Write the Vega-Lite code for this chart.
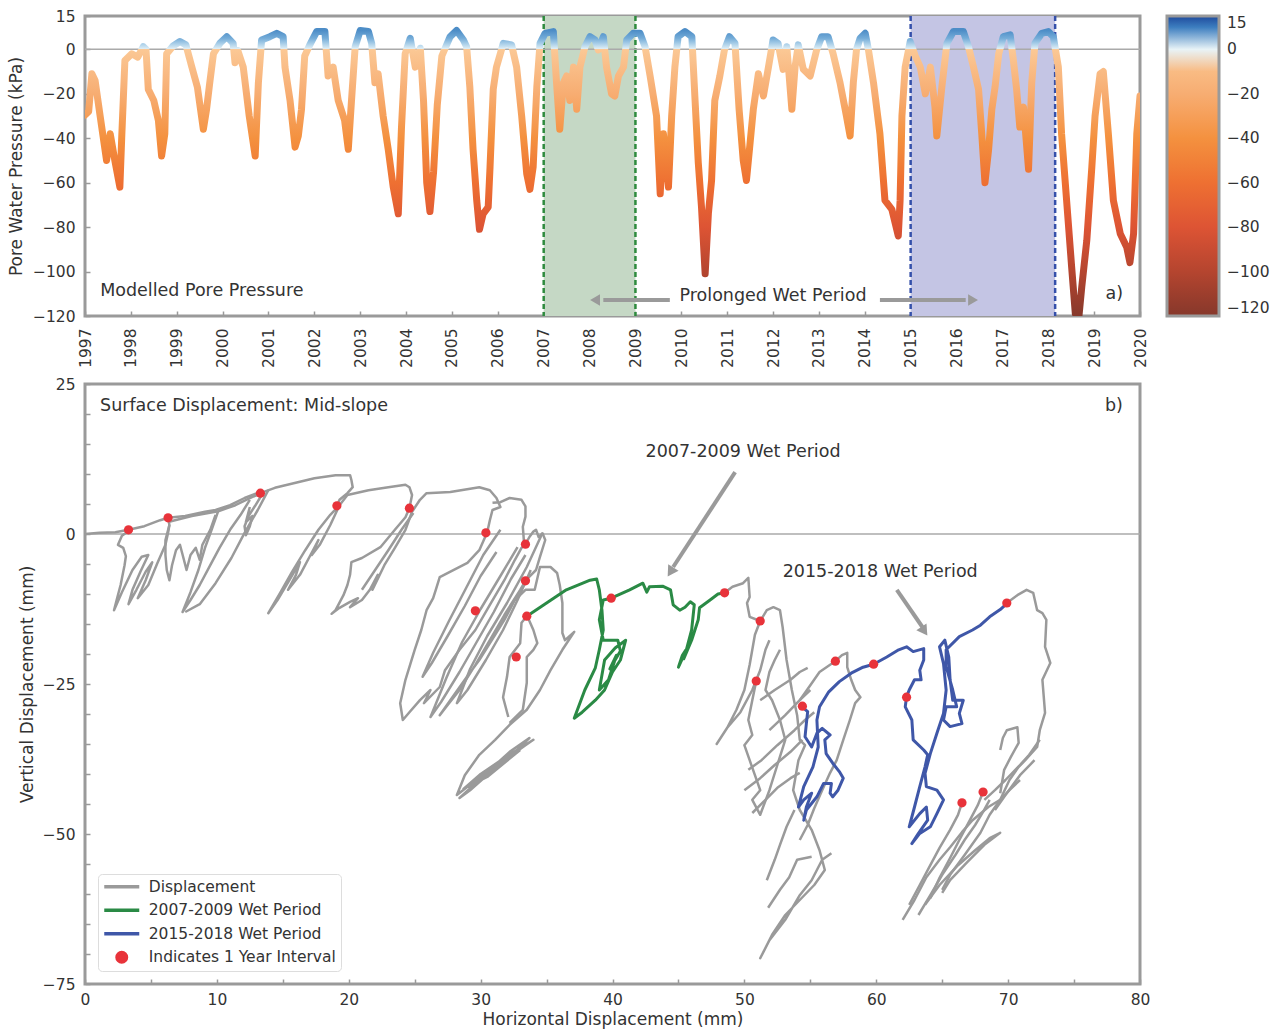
{
"$schema": "https://vega.github.io/schema/vega-lite/v6.json",
"background": "white",
"padding": {"left": 5, "top": 7, "right": 5, "bottom": 2},
"spacing": 6,
"config": {
  "font": "DejaVu Sans",
  "view": {"stroke": "#9a9a9a", "strokeWidth": 3},
  "axis": {"domain": false, "grid": false, "tickColor": "#9a9a9a", "tickWidth": 1.5, "tickSize": -5, "labelFontSize": 15.5, "labelColor": "#333333", "titleFontSize": 17, "titleFontWeight": "normal", "titleColor": "#333333", "labelFont": "DejaVu Sans", "titleFont": "DejaVu Sans"},
  "legend": {"labelFont": "DejaVu Sans"},
  "text": {"font": "DejaVu Sans", "fontSize": 17.5, "color": "#333333"}
},
"resolve": {"scale": {"color": "independent", "x": "independent", "y": "independent"}, "legend": {"color": "independent"}},
"datasets": {
  "pwp": [
{"t":1997.00,"p":-29.6},{"t":1997.08,"p":-28},{"t":1997.15,"p":-11},{"t":1997.22,"p":-14},{"t":1997.33,"p":-30},{"t":1997.47,"p":-50},{"t":1997.55,"p":-38},{"t":1997.65,"p":-50},{"t":1997.76,"p":-62},{"t":1997.80,"p":-40},{"t":1997.87,"p":-5},{"t":1998.02,"p":-2},{"t":1998.15,"p":-3.5},{"t":1998.27,"p":1.2},{"t":1998.33,"p":0},{"t":1998.38,"p":-18},{"t":1998.50,"p":-23},{"t":1998.60,"p":-32},{"t":1998.67,"p":-48},{"t":1998.74,"p":-38},{"t":1998.78,"p":-2},{"t":1998.92,"p":1.5},{"t":1999.07,"p":3.5},{"t":1999.20,"p":2.0},{"t":1999.33,"p":-8},{"t":1999.45,"p":-17},{"t":1999.58,"p":-36},{"t":1999.65,"p":-27},{"t":1999.72,"p":-15},{"t":1999.80,"p":-2},{"t":1999.94,"p":2.7},{"t":2000.09,"p":5.7},{"t":2000.23,"p":2.7},{"t":2000.27,"p":-6},{"t":2000.33,"p":-0.5},{"t":2000.45,"p":-8},{"t":2000.58,"p":-30},{"t":2000.71,"p":-48},{"t":2000.78,"p":-15},{"t":2000.85,"p":4.2},{"t":2001.03,"p":5.7},{"t":2001.18,"p":7.2},{"t":2001.32,"p":5.7},{"t":2001.36,"p":-8},{"t":2001.47,"p":-23},{"t":2001.58,"p":-44},{"t":2001.65,"p":-39},{"t":2001.72,"p":-27},{"t":2001.79,"p":-3},{"t":2001.90,"p":2.0},{"t":2002.05,"p":8.0},{"t":2002.23,"p":8.0},{"t":2002.30,"p":-12},{"t":2002.41,"p":-8},{"t":2002.52,"p":-23},{"t":2002.66,"p":-32},{"t":2002.74,"p":-45},{"t":2002.81,"p":-23},{"t":2002.89,"p":1.2},{"t":2003.00,"p":8.5},{"t":2003.18,"p":8.0},{"t":2003.25,"p":2.7},{"t":2003.32,"p":-15},{"t":2003.39,"p":-11},{"t":2003.50,"p":-30},{"t":2003.61,"p":-45},{"t":2003.72,"p":-62},{"t":2003.83,"p":-74},{"t":2003.90,"p":-35},{"t":2003.98,"p":-2},{"t":2004.09,"p":5.0},{"t":2004.20,"p":-8},{"t":2004.31,"p":0.5},{"t":2004.38,"p":-23},{"t":2004.45,"p":-60},{"t":2004.52,"p":-73},{"t":2004.60,"p":-55},{"t":2004.68,"p":-25},{"t":2004.78,"p":-3},{"t":2004.96,"p":5.7},{"t":2005.10,"p":8.5},{"t":2005.25,"p":4.2},{"t":2005.32,"p":1.2},{"t":2005.39,"p":-17},{"t":2005.46,"p":-45},{"t":2005.54,"p":-68},{"t":2005.60,"p":-81},{"t":2005.68,"p":-74},{"t":2005.79,"p":-71},{"t":2005.83,"p":-53},{"t":2005.90,"p":-18},{"t":2005.97,"p":-8},{"t":2006.12,"p":2.7},{"t":2006.30,"p":2.0},{"t":2006.41,"p":-8},{"t":2006.52,"p":-30},{"t":2006.63,"p":-56},{"t":2006.70,"p":-63},{"t":2006.77,"p":-53},{"t":2006.85,"p":-17},{"t":2006.92,"p":2.7},{"t":2007.03,"p":7.2},{"t":2007.21,"p":8.0},{"t":2007.28,"p":-15},{"t":2007.35,"p":-36},{"t":2007.43,"p":-15},{"t":2007.50,"p":-12},{"t":2007.57,"p":-23},{"t":2007.65,"p":-8},{"t":2007.72,"p":-27},{"t":2007.79,"p":-8},{"t":2007.90,"p":1.2},{"t":2008.01,"p":5.7},{"t":2008.12,"p":4.2},{"t":2008.19,"p":-0.3},{"t":2008.30,"p":5.7},{"t":2008.37,"p":-8},{"t":2008.48,"p":-20},{"t":2008.55,"p":-21},{"t":2008.63,"p":-12},{"t":2008.74,"p":-8},{"t":2008.81,"p":4.2},{"t":2008.95,"p":7.2},{"t":2009.10,"p":7.2},{"t":2009.21,"p":1.2},{"t":2009.32,"p":-12},{"t":2009.46,"p":-30},{"t":2009.54,"p":-65},{"t":2009.61,"p":-38},{"t":2009.72,"p":-62},{"t":2009.79,"p":-30},{"t":2009.86,"p":-8},{"t":2009.93,"p":5.7},{"t":2010.08,"p":8.0},{"t":2010.23,"p":5.7},{"t":2010.30,"p":-23},{"t":2010.37,"p":-51},{"t":2010.44,"p":-71},{"t":2010.52,"p":-101},{"t":2010.59,"p":-74},{"t":2010.66,"p":-59},{"t":2010.73,"p":-23},{"t":2010.84,"p":-12},{"t":2010.94,"p":-0.3},{"t":2011.05,"p":5.7},{"t":2011.17,"p":2.7},{"t":2011.26,"p":-27},{"t":2011.35,"p":-50},{"t":2011.42,"p":-59},{"t":2011.50,"p":-42},{"t":2011.57,"p":-27},{"t":2011.68,"p":-11},{"t":2011.79,"p":-21},{"t":2011.90,"p":-8},{"t":2012.00,"p":4.2},{"t":2012.11,"p":2.7},{"t":2012.22,"p":-9},{"t":2012.30,"p":1.2},{"t":2012.41,"p":-27},{"t":2012.48,"p":-8},{"t":2012.55,"p":2.0},{"t":2012.66,"p":-9},{"t":2012.81,"p":-12},{"t":2012.95,"p":-0.3},{"t":2013.06,"p":5.7},{"t":2013.20,"p":5.7},{"t":2013.31,"p":-2},{"t":2013.46,"p":-15},{"t":2013.60,"p":-30},{"t":2013.68,"p":-39},{"t":2013.75,"p":-15},{"t":2013.82,"p":0},{"t":2013.90,"p":5.0},{"t":2014.01,"p":7.2},{"t":2014.08,"p":-0.3},{"t":2014.19,"p":-15},{"t":2014.33,"p":-38},{"t":2014.44,"p":-68},{"t":2014.59,"p":-72},{"t":2014.73,"p":-84},{"t":2014.77,"p":-68},{"t":2014.81,"p":-30},{"t":2014.88,"p":-8},{"t":2014.99,"p":3.5},{"t":2015.10,"p":-3},{"t":2015.21,"p":-8},{"t":2015.32,"p":-20},{"t":2015.43,"p":-8},{"t":2015.53,"p":-26},{"t":2015.57,"p":-39},{"t":2015.68,"p":-17},{"t":2015.79,"p":2.7},{"t":2015.93,"p":8.0},{"t":2016.15,"p":8.0},{"t":2016.26,"p":1.2},{"t":2016.37,"p":-8},{"t":2016.48,"p":-18},{"t":2016.55,"p":-38},{"t":2016.62,"p":-60},{"t":2016.70,"p":-45},{"t":2016.77,"p":-27},{"t":2016.84,"p":-17},{"t":2016.92,"p":-2},{"t":2017.02,"p":5.7},{"t":2017.17,"p":6.5},{"t":2017.24,"p":-5},{"t":2017.31,"p":-18},{"t":2017.38,"p":-35},{"t":2017.46,"p":-26},{"t":2017.57,"p":-54},{"t":2017.64,"p":-15},{"t":2017.71,"p":2.7},{"t":2017.86,"p":7.2},{"t":2018.00,"p":8.0},{"t":2018.11,"p":5.7},{"t":2018.22,"p":-8},{"t":2018.29,"p":-38},{"t":2018.40,"p":-68},{"t":2018.51,"p":-98},{"t":2018.59,"p":-119},{"t":2018.66,"p":-122},{"t":2018.73,"p":-107},{"t":2018.84,"p":-86},{"t":2018.95,"p":-53},{"t":2019.02,"p":-30},{"t":2019.13,"p":-11},{"t":2019.20,"p":-10},{"t":2019.31,"p":-38},{"t":2019.42,"p":-68},{"t":2019.57,"p":-83},{"t":2019.71,"p":-89},{"t":2019.78,"p":-96},{"t":2019.86,"p":-83},{"t":2019.93,"p":-38},{"t":2020.00,"p":-21}
  ],
  "gray": [
{"s":1,"x":0,"y":0},{"s":1,"x":1.1,"y":0.2},{"s":1,"x":2.3,"y":0.3},{"s":1,"x":3.3,"y":0.7},{"s":1,"x":4.5,"y":1.3},{"s":1,"x":5.7,"y":2.3},{"s":1,"x":6.3,"y":2.7},{"s":1,"x":7.6,"y":3.0},{"s":1,"x":9.1,"y":3.7},{"s":1,"x":9.9,"y":4.0},{"s":1,"x":11.0,"y":4.8},{"s":1,"x":12.1,"y":6.0},{"s":1,"x":12.9,"y":6.7},{"s":1,"x":13.3,"y":6.8},{"s":1,"x":14.4,"y":7.7},{"s":1,"x":15.9,"y":8.5},{"s":1,"x":17.4,"y":9.3},{"s":1,"x":19.0,"y":9.8},{"s":1,"x":20.1,"y":9.8},{"s":1,"x":20.2,"y":9.0},{"s":1,"x":20.3,"y":7.8},{"s":1,"x":19.9,"y":6.8},{"s":1,"x":19.3,"y":5.7},{"s":1,"x":19.1,"y":4.7},
{"s":2,"x":6.3,"y":2.0},{"s":2,"x":8.1,"y":3.0},{"s":2,"x":10.1,"y":3.8},{"s":2,"x":11.4,"y":4.8},{"s":2,"x":12.7,"y":6.2},{"s":2,"x":13.4,"y":6.7},
{"s":3,"x":3.3,"y":0.5},{"s":3,"x":2.8,"y":-0.3},{"s":3,"x":2.5,"y":-1.8},{"s":3,"x":2.9,"y":-2.3},{"s":3,"x":3.1,"y":-3.7},{"s":3,"x":3.0,"y":-5.2},{"s":3,"x":2.7,"y":-8.5},{"s":3,"x":2.4,"y":-11.0},{"s":3,"x":2.2,"y":-12.7},{"s":3,"x":2.8,"y":-9.7},{"s":3,"x":3.6,"y":-6.0},{"s":3,"x":4.3,"y":-3.8},{"s":3,"x":4.8,"y":-3.5},{"s":3,"x":4.2,"y":-6.3},{"s":3,"x":3.6,"y":-9.3},{"s":3,"x":3.3,"y":-11.7},{"s":3,"x":3.9,"y":-9.3},{"s":3,"x":4.6,"y":-6.3},{"s":3,"x":5.1,"y":-4.7},{"s":3,"x":4.6,"y":-7.7},{"s":3,"x":4.0,"y":-10.7},{"s":3,"x":4.8,"y":-8.5},{"s":3,"x":5.5,"y":-4.8},{"s":3,"x":6.1,"y":-1.8},{"s":3,"x":6.3,"y":0.2},{"s":3,"x":6.4,"y":1.5},{"s":3,"x":6.3,"y":2.7},
{"s":4,"x":6.4,"y":1.5},{"s":4,"x":6.1,"y":-1.0},{"s":4,"x":6.1,"y":-3.5},{"s":4,"x":6.2,"y":-6.0},{"s":4,"x":6.4,"y":-7.7},{"s":4,"x":6.6,"y":-5.2},{"s":4,"x":6.9,"y":-2.7},{"s":4,"x":7.2,"y":-1.8},{"s":4,"x":7.5,"y":-4.3},{"s":4,"x":7.7,"y":-6.0},{"s":4,"x":8.0,"y":-3.5},{"s":4,"x":8.4,"y":-2.3},{"s":4,"x":8.7,"y":-4.3},{"s":4,"x":8.9,"y":-1.8},{"s":4,"x":9.5,"y":0.7},{"s":4,"x":9.9,"y":3.2},
{"s":5,"x":10.1,"y":3.8},{"s":5,"x":9.6,"y":0.7},{"s":5,"x":9.1,"y":-2.3},{"s":5,"x":8.6,"y":-6.0},{"s":5,"x":8.0,"y":-9.7},{"s":5,"x":7.4,"y":-13.0},{"s":5,"x":8.0,"y":-11.0},{"s":5,"x":8.7,"y":-8.5},{"s":5,"x":9.5,"y":-5.2},{"s":5,"x":10.2,"y":-2.3},{"s":5,"x":11.0,"y":0.7},{"s":5,"x":11.8,"y":3.2},{"s":5,"x":12.5,"y":5.7},
{"s":6,"x":13.4,"y":6.5},{"s":6,"x":12.9,"y":4.7},{"s":6,"x":12.4,"y":3.0},{"s":6,"x":12.1,"y":1.3},{"s":6,"x":12.2,"y":-0.2},{"s":6,"x":12.5,"y":1.3},{"s":6,"x":12.7,"y":3.0},{"s":6,"x":12.2,"y":2.0},{"s":6,"x":12.5,"y":4.5},
{"s":7,"x":13.9,"y":7.3},{"s":7,"x":13.1,"y":4.0},{"s":7,"x":12.1,"y":0.2},{"s":7,"x":11.1,"y":-4.0},{"s":7,"x":9.9,"y":-8.2},{"s":7,"x":8.7,"y":-11.7},{"s":7,"x":7.6,"y":-13.0},
{"s":8,"x":19.3,"y":4.8},{"s":8,"x":18.6,"y":3.2},{"s":8,"x":17.7,"y":0.7},{"s":8,"x":16.7,"y":-2.7},{"s":8,"x":15.7,"y":-6.3},{"s":8,"x":14.8,"y":-9.8},{"s":8,"x":13.9,"y":-13.2},{"s":8,"x":14.6,"y":-11.0},{"s":8,"x":15.5,"y":-7.7},{"s":8,"x":16.3,"y":-4.7},{"s":8,"x":16.0,"y":-6.8},{"s":8,"x":15.4,"y":-9.3},{"s":8,"x":16.3,"y":-6.8},{"s":8,"x":17.1,"y":-3.5},{"s":8,"x":17.7,"y":-1.0},{"s":8,"x":17.2,"y":-3.5},{"s":8,"x":17.8,"y":-1.8},{"s":8,"x":18.6,"y":1.5},{"s":8,"x":19.3,"y":4.8},{"s":8,"x":19.9,"y":6.5},{"s":8,"x":21.5,"y":7.3},{"s":8,"x":23.0,"y":7.8},{"s":8,"x":24.3,"y":8.2},{"s":8,"x":24.6,"y":7.8},{"s":8,"x":24.8,"y":6.5},{"s":8,"x":24.6,"y":4.3},
{"s":9,"x":24.6,"y":4.3},{"s":9,"x":24.3,"y":2.8},{"s":9,"x":23.5,"y":0.7},{"s":9,"x":22.4,"y":-2.2},{"s":9,"x":21.0,"y":-4.0},{"s":9,"x":20.2,"y":-4.7},{"s":9,"x":20.1,"y":-6.8},{"s":9,"x":19.9,"y":-8.5},{"s":9,"x":19.6,"y":-10.2},{"s":9,"x":19.0,"y":-12.7},{"s":9,"x":18.7,"y":-13.3},{"s":9,"x":19.3,"y":-12.3},{"s":9,"x":20.1,"y":-11.3},{"s":9,"x":20.7,"y":-10.7},{"s":9,"x":20.1,"y":-12.2},{"s":9,"x":21.0,"y":-11.0},{"s":9,"x":21.6,"y":-9.3},{"s":9,"x":22.2,"y":-6.8},{"s":9,"x":21.8,"y":-9.3},{"s":9,"x":22.7,"y":-5.2},{"s":9,"x":23.5,"y":-2.3},{"s":9,"x":24.3,"y":0.7},{"s":9,"x":24.8,"y":3.7},{"s":9,"x":25.4,"y":5.7},{"s":9,"x":25.9,"y":6.8},{"s":9,"x":27.7,"y":7.0},{"s":9,"x":29.9,"y":7.8},{"s":9,"x":30.7,"y":7.3},{"s":9,"x":31.2,"y":6.0},{"s":9,"x":31.5,"y":4.5},{"s":9,"x":30.9,"y":4.0},{"s":9,"x":30.7,"y":2.3},{"s":9,"x":30.5,"y":0.3},
{"s":10,"x":24.9,"y":3.5},{"s":10,"x":24.0,"y":0.7},{"s":10,"x":23.0,"y":-2.7},{"s":10,"x":22.0,"y":-6.0},{"s":10,"x":21.0,"y":-9.3},
{"s":11,"x":30.5,"y":0.3},{"s":11,"x":29.9,"y":-2.7},{"s":11,"x":29.0,"y":-4.8},{"s":11,"x":26.9,"y":-7.2},{"s":11,"x":26.6,"y":-9.3},{"s":11,"x":26.4,"y":-10.7},{"s":11,"x":25.9,"y":-12.7},{"s":11,"x":25.5,"y":-16.0},{"s":11,"x":25.0,"y":-19.3},{"s":11,"x":24.3,"y":-24.3},{"s":11,"x":23.9,"y":-28.2},{"s":11,"x":24.1,"y":-31.0},{"s":11,"x":24.6,"y":-29.7},{"s":11,"x":25.4,"y":-27.7},{"s":11,"x":26.2,"y":-26.0},{"s":11,"x":25.7,"y":-28.2},{"s":11,"x":26.9,"y":-25.5},{"s":11,"x":27.3,"y":-22.7},{"s":11,"x":28.4,"y":-19.3},{"s":11,"x":29.6,"y":-16.0},{"s":11,"x":30.7,"y":-11.8},{"s":11,"x":31.8,"y":-7.7},{"s":11,"x":32.6,"y":-4.3},{"s":11,"x":33.1,"y":-2.3},{"s":11,"x":33.4,"y":-1.7},
{"s":12,"x":31.5,"y":0.7},{"s":12,"x":30.2,"y":-3.5},{"s":12,"x":28.9,"y":-9.0},{"s":12,"x":27.6,"y":-14.5},{"s":12,"x":26.4,"y":-19.8},{"s":12,"x":25.6,"y":-23.8},{"s":12,"x":26.3,"y":-21.5},{"s":12,"x":27.5,"y":-17.0},{"s":12,"x":28.8,"y":-12.0},{"s":12,"x":30.0,"y":-7.0},{"s":12,"x":31.2,"y":-3.0},
{"s":13,"x":32.8,"y":-2.2},{"s":13,"x":31.5,"y":-7.0},{"s":13,"x":30.0,"y":-12.5},{"s":13,"x":28.6,"y":-18.0},{"s":13,"x":27.4,"y":-24.0},{"s":13,"x":26.2,"y":-30.5},{"s":13,"x":27.0,"y":-28.0},{"s":13,"x":28.4,"y":-23.0},{"s":13,"x":29.7,"y":-18.0},{"s":13,"x":31.0,"y":-13.0},{"s":13,"x":32.3,"y":-7.5},{"s":13,"x":33.4,"y":-3.5},
{"s":14,"x":34.7,"y":0.2},{"s":14,"x":33.5,"y":-5.5},{"s":14,"x":32.0,"y":-11.5},{"s":14,"x":30.5,"y":-17.0},{"s":14,"x":29.2,"y":-22.5},{"s":14,"x":28.2,"y":-28.2},{"s":14,"x":29.0,"y":-26.0},{"s":14,"x":30.4,"y":-21.0},{"s":14,"x":31.7,"y":-16.0},{"s":14,"x":32.8,"y":-11.0},{"s":14,"x":33.8,"y":-6.0},
{"s":15,"x":30.9,"y":5.2},{"s":15,"x":31.5,"y":5.3},{"s":15,"x":32.2,"y":6.0},{"s":15,"x":33.1,"y":5.7},{"s":15,"x":33.4,"y":4.6},{"s":15,"x":33.4,"y":2.9},{"s":15,"x":33.2,"y":1.2},{"s":15,"x":33.3,"y":-1.7},
{"s":16,"x":33.4,"y":-1.7},{"s":16,"x":33.7,"y":-0.5},{"s":16,"x":34.0,"y":0.4},{"s":16,"x":34.2,"y":0.7},{"s":16,"x":34.4,"y":-0.5},{"s":16,"x":34.7,"y":0.1},{"s":16,"x":34.9,"y":-1.0},{"s":16,"x":34.5,"y":-3.8},{"s":16,"x":34.2,"y":-6.0},{"s":16,"x":33.7,"y":-7.1},{"s":16,"x":33.4,"y":-7.8},
{"s":17,"x":33.4,"y":-7.8},{"s":17,"x":33.0,"y":-9.3},{"s":17,"x":31.8,"y":-13.5},{"s":17,"x":30.7,"y":-17.7},{"s":17,"x":29.6,"y":-21.8},{"s":17,"x":28.4,"y":-26.0},{"s":17,"x":27.5,"y":-28.5},{"s":17,"x":26.9,"y":-30.2},{"s":17,"x":27.7,"y":-27.7},{"s":17,"x":28.8,"y":-24.3},{"s":17,"x":29.9,"y":-21.0},{"s":17,"x":31.1,"y":-16.8},{"s":17,"x":31.8,"y":-14.3},{"s":17,"x":32.6,"y":-11.0},{"s":17,"x":33.4,"y":-9.3},{"s":17,"x":34.1,"y":-9.3},{"s":17,"x":34.5,"y":-5.5},{"s":17,"x":35.3,"y":-5.5},{"s":17,"x":35.8,"y":-6.5},{"s":17,"x":36.0,"y":-8.5},{"s":17,"x":36.2,"y":-11.5},{"s":17,"x":36.2,"y":-16.5},{"s":17,"x":36.4,"y":-17.7},{"s":17,"x":37.1,"y":-16.3},{"s":17,"x":36.2,"y":-19.3},{"s":17,"x":35.3,"y":-22.7},{"s":17,"x":34.5,"y":-26.0},{"s":17,"x":33.5,"y":-29.3},{"s":17,"x":32.2,"y":-31.8},{"s":17,"x":31.1,"y":-34.3},{"s":17,"x":29.9,"y":-36.8},{"s":17,"x":28.8,"y":-40.2},{"s":17,"x":28.2,"y":-43.5},{"s":17,"x":29.2,"y":-41.8},{"s":17,"x":30.7,"y":-39.3},{"s":17,"x":32.2,"y":-36.3},{"s":17,"x":33.7,"y":-34.0},{"s":17,"x":32.6,"y":-36.3},{"s":17,"x":31.1,"y":-39.0},{"s":17,"x":29.2,"y":-42.7},{"s":17,"x":28.4,"y":-44.0},{"s":17,"x":29.9,"y":-41.0},{"s":17,"x":31.8,"y":-37.7},{"s":17,"x":33.4,"y":-35.2},{"s":17,"x":34.0,"y":-34.3},{"s":17,"x":32.0,"y":-37.0},{"s":17,"x":30.0,"y":-40.0},{"s":17,"x":28.7,"y":-42.5},{"s":17,"x":30.5,"y":-40.5},{"s":17,"x":33.0,"y":-36.0},
{"s":18,"x":33.5,"y":-13.7},{"s":18,"x":33.1,"y":-14.8},{"s":18,"x":33.0,"y":-18.2},{"s":18,"x":32.2,"y":-20.5},{"s":18,"x":32.0,"y":-23.8},{"s":18,"x":31.7,"y":-27.2},{"s":18,"x":32.1,"y":-30.5},
{"s":19,"x":33.6,"y":-14.0},{"s":19,"x":34.0,"y":-16.0},{"s":19,"x":34.3,"y":-18.2},{"s":19,"x":34.0,"y":-19.3},{"s":19,"x":33.5,"y":-20.5},{"s":19,"x":33.5,"y":-24.8},{"s":19,"x":33.2,"y":-29.3},{"s":19,"x":32.2,"y":-31.5},
{"s":20,"x":48.5,"y":-9.8},{"s":20,"x":49.1,"y":-8.8},{"s":20,"x":49.9,"y":-8.2},{"s":20,"x":50.3,"y":-7.3},{"s":20,"x":50.4,"y":-10.5},{"s":20,"x":50.2,"y":-11.5},{"s":20,"x":50.4,"y":-13.8},{"s":20,"x":51.2,"y":-14.5},{"s":20,"x":51.7,"y":-12.7},{"s":20,"x":52.2,"y":-12.2},{"s":20,"x":52.7,"y":-12.7},{"s":20,"x":52.9,"y":-15.5},{"s":20,"x":53.2,"y":-21.0},{"s":20,"x":53.6,"y":-26.0},{"s":20,"x":54.0,"y":-30.2},{"s":20,"x":54.2,"y":-34.3},{"s":20,"x":54.6,"y":-35.2},{"s":20,"x":54.1,"y":-37.7},{"s":20,"x":53.7,"y":-42.7},{"s":20,"x":54.2,"y":-46.0},{"s":20,"x":55.1,"y":-49.3},{"s":20,"x":55.7,"y":-52.7},{"s":20,"x":56.1,"y":-56.0},{"s":20,"x":55.3,"y":-58.5},{"s":20,"x":54.2,"y":-61.0},{"s":20,"x":53.1,"y":-63.5},{"s":20,"x":52.1,"y":-66.8},{"s":20,"x":51.2,"y":-70.7},{"s":20,"x":51.9,"y":-67.7},{"s":20,"x":53.1,"y":-64.3},{"s":20,"x":54.2,"y":-60.2},{"s":20,"x":55.1,"y":-57.7},{"s":20,"x":55.9,"y":-54.3},{"s":20,"x":56.6,"y":-53.2},
{"s":21,"x":51.2,"y":-14.5},{"s":21,"x":50.8,"y":-16.8},{"s":21,"x":50.6,"y":-19.3},{"s":21,"x":50.4,"y":-21.8},{"s":21,"x":50.0,"y":-26.0},{"s":21,"x":49.4,"y":-29.3},{"s":21,"x":48.7,"y":-32.3},{"s":21,"x":47.9,"y":-35.0},{"s":21,"x":48.7,"y":-32.3},{"s":21,"x":49.7,"y":-29.7},{"s":21,"x":50.6,"y":-26.0},{"s":21,"x":51.2,"y":-22.7},{"s":21,"x":51.6,"y":-19.3},{"s":21,"x":51.9,"y":-17.7},
{"s":22,"x":50.9,"y":-24.5},{"s":22,"x":50.6,"y":-27.7},{"s":22,"x":50.3,"y":-31.0},{"s":22,"x":50.6,"y":-33.5},{"s":22,"x":50.0,"y":-35.2},{"s":22,"x":50.4,"y":-37.7},{"s":22,"x":50.8,"y":-40.2},{"s":22,"x":51.2,"y":-42.7},{"s":22,"x":50.6,"y":-44.3},{"s":22,"x":51.2,"y":-46.8},{"s":22,"x":51.9,"y":-42.7},{"s":22,"x":52.5,"y":-38.5},{"s":22,"x":53.1,"y":-34.3},{"s":22,"x":52.7,"y":-31.0},{"s":22,"x":52.1,"y":-27.7},{"s":22,"x":51.6,"y":-26.0},{"s":22,"x":51.9,"y":-23.0},{"s":22,"x":52.3,"y":-21.0},{"s":22,"x":52.7,"y":-19.3},
{"s":23,"x":50.6,"y":-46.5},{"s":23,"x":51.6,"y":-44.3},{"s":23,"x":52.5,"y":-42.3},{"s":23,"x":53.5,"y":-40.7},{"s":23,"x":54.2,"y":-39.8},
{"s":24,"x":50.0,"y":-42.7},{"s":24,"x":51.2,"y":-40.7},{"s":24,"x":52.3,"y":-38.5},{"s":24,"x":53.5,"y":-36.3},{"s":24,"x":54.4,"y":-34.3},
{"s":25,"x":50.3,"y":-39.3},{"s":25,"x":51.3,"y":-37.7},{"s":25,"x":52.5,"y":-35.2},{"s":25,"x":53.8,"y":-32.7},{"s":25,"x":54.6,"y":-31.0},{"s":25,"x":55.3,"y":-29.7},
{"s":26,"x":51.7,"y":-57.7},{"s":26,"x":52.3,"y":-54.3},{"s":26,"x":52.7,"y":-51.8},{"s":26,"x":53.2,"y":-48.8},{"s":26,"x":53.8,"y":-46.0},
{"s":27,"x":51.8,"y":-62.3},{"s":27,"x":52.7,"y":-59.3},{"s":27,"x":53.4,"y":-57.2},{"s":27,"x":54.0,"y":-54.3},{"s":27,"x":55.1,"y":-53.8},
{"s":28,"x":54.2,"y":-27.7},{"s":28,"x":55.0,"y":-25.2},{"s":28,"x":55.7,"y":-23.0},{"s":28,"x":56.5,"y":-21.8},{"s":28,"x":56.9,"y":-21.2},{"s":28,"x":57.4,"y":-20.2},{"s":28,"x":57.8,"y":-19.8},{"s":28,"x":57.8,"y":-22.2},{"s":28,"x":58.1,"y":-24.3},{"s":28,"x":58.4,"y":-26.0},{"s":28,"x":58.8,"y":-27.2},{"s":28,"x":58.4,"y":-28.2},{"s":28,"x":58.0,"y":-31.0},{"s":28,"x":57.5,"y":-34.3},{"s":28,"x":57.0,"y":-37.7},{"s":28,"x":56.5,"y":-39.8},{"s":28,"x":55.9,"y":-42.7},{"s":28,"x":55.3,"y":-45.7},{"s":28,"x":54.8,"y":-48.5},{"s":28,"x":54.2,"y":-51.0},
{"s":29,"x":51.2,"y":-27.7},{"s":29,"x":52.3,"y":-26.0},{"s":29,"x":53.5,"y":-24.3},{"s":29,"x":54.2,"y":-23.0},{"s":29,"x":54.8,"y":-22.3},
{"s":30,"x":51.9,"y":-32.7},{"s":30,"x":53.1,"y":-30.2},{"s":30,"x":54.2,"y":-27.7},{"s":30,"x":55.0,"y":-26.0},
{"s":31,"x":69.9,"y":-11.5},{"s":31,"x":70.7,"y":-10.2},{"s":31,"x":71.4,"y":-9.3},{"s":31,"x":71.9,"y":-9.8},{"s":31,"x":72.2,"y":-12.7},{"s":31,"x":72.6,"y":-13.2},{"s":31,"x":72.9,"y":-14.3},{"s":31,"x":72.8,"y":-18.8},{"s":31,"x":73.2,"y":-21.5},{"s":31,"x":72.6,"y":-24.3},{"s":31,"x":72.8,"y":-29.8},{"s":31,"x":72.4,"y":-32.7},{"s":31,"x":72.2,"y":-35.5},{"s":31,"x":71.3,"y":-37.7},{"s":31,"x":70.8,"y":-38.8},{"s":31,"x":70.1,"y":-41.0},{"s":31,"x":69.4,"y":-44.3},{"s":31,"x":68.6,"y":-46.8},{"s":31,"x":67.9,"y":-49.8},{"s":31,"x":66.7,"y":-53.5},{"s":31,"x":65.6,"y":-56.8},{"s":31,"x":65.0,"y":-59.3},
{"s":32,"x":69.4,"y":-36.0},{"s":32,"x":69.6,"y":-34.0},{"s":32,"x":69.9,"y":-32.7},{"s":32,"x":70.7,"y":-32.2},{"s":32,"x":70.8,"y":-34.8},{"s":32,"x":70.2,"y":-37.2},{"s":32,"x":69.7,"y":-39.3},{"s":32,"x":69.4,"y":-43.2},
{"s":33,"x":62.0,"y":-64.3},{"s":33,"x":62.9,"y":-61.0},{"s":33,"x":63.8,"y":-57.2},{"s":33,"x":64.8,"y":-54.3},{"s":33,"x":65.6,"y":-52.2},{"s":33,"x":66.5,"y":-49.7},{"s":33,"x":67.3,"y":-47.7},{"s":33,"x":68.5,"y":-45.5},{"s":33,"x":69.4,"y":-44.3},{"s":33,"x":70.1,"y":-42.7},{"s":33,"x":70.9,"y":-41.0},
{"s":34,"x":63.2,"y":-63.5},{"s":34,"x":64.1,"y":-60.2},{"s":34,"x":65.0,"y":-56.8},{"s":34,"x":66.0,"y":-53.5},{"s":34,"x":66.7,"y":-51.0},{"s":34,"x":67.5,"y":-48.5},{"s":34,"x":68.1,"y":-46.3},{"s":34,"x":68.6,"y":-44.3},
{"s":35,"x":63.7,"y":-61.8},{"s":35,"x":64.8,"y":-58.5},{"s":35,"x":66.2,"y":-55.2},{"s":35,"x":67.5,"y":-52.7},{"s":35,"x":68.6,"y":-50.7},{"s":35,"x":69.4,"y":-49.8},{"s":35,"x":68.2,"y":-51.8},{"s":35,"x":66.9,"y":-54.7},{"s":35,"x":65.6,"y":-57.7},{"s":35,"x":65.0,"y":-59.8},
{"s":36,"x":66.5,"y":-44.8},{"s":36,"x":66.2,"y":-46.8},{"s":36,"x":65.6,"y":-49.3},{"s":36,"x":64.8,"y":-52.3},{"s":36,"x":64.1,"y":-55.2},{"s":36,"x":63.3,"y":-58.5},{"s":36,"x":62.5,"y":-61.8},
{"s":37,"x":68.1,"y":-43.0},{"s":37,"x":67.7,"y":-45.2},{"s":37,"x":67.1,"y":-47.7},{"s":37,"x":66.3,"y":-51.0},{"s":37,"x":65.6,"y":-54.0},{"s":37,"x":64.8,"y":-57.3},{"s":37,"x":64.1,"y":-60.7},
{"s":38,"x":72.4,"y":-34.3},{"s":38,"x":71.6,"y":-36.8},{"s":38,"x":70.9,"y":-38.5},{"s":38,"x":69.8,"y":-41.0},{"s":38,"x":69.0,"y":-42.7},{"s":38,"x":68.2,"y":-44.3},
{"s":39,"x":72.0,"y":-37.7},{"s":39,"x":70.9,"y":-40.2},{"s":39,"x":69.8,"y":-43.5},{"s":39,"x":69.0,"y":-46.0}
  ],
  "green": [
{"x":33.5,"y":-13.7},{"x":35.0,"y":-11.5},{"x":36.5,"y":-9.3},{"x":38.3,"y":-7.7},{"x":38.8,"y":-7.5},{"x":39.0,"y":-9.3},{"x":39.2,"y":-12.7},{"x":39.3,"y":-16.0},{"x":39.0,"y":-19.3},{"x":38.7,"y":-22.3},{"x":37.9,"y":-26.0},{"x":37.1,"y":-30.7},{"x":37.7,"y":-29.7},{"x":38.7,"y":-27.7},{"x":39.4,"y":-26.0},{"x":40.0,"y":-23.0},{"x":40.6,"y":-21.0},{"x":40.9,"y":-18.5},{"x":41.0,"y":-17.7},{"x":40.2,"y":-19.0},{"x":39.4,"y":-21.0},{"x":39.0,"y":-26.0},{"x":39.7,"y":-24.3},{"x":40.3,"y":-20.2},{"x":39.8,"y":-22.5},{"x":40.6,"y":-19.5},{"x":40.4,"y":-17.7},{"x":39.3,"y":-17.7},{"x":39.0,"y":-14.3},{"x":39.3,"y":-11.0},{"x":39.9,"y":-10.7},{"x":41.3,"y":-9.3},{"x":42.3,"y":-8.2},{"x":42.6,"y":-9.7},{"x":42.8,"y":-8.8},{"x":43.8,"y":-8.7},{"x":44.4,"y":-9.3},{"x":44.6,"y":-11.8},{"x":45.1,"y":-12.7},{"x":45.5,"y":-12.2},{"x":45.9,"y":-11.3},{"x":46.2,"y":-11.8},{"x":46.0,"y":-16.0},{"x":45.6,"y":-19.3},{"x":45.0,"y":-22.2},{"x":45.3,"y":-20.2},{"x":45.8,"y":-18.5},{"x":45.4,"y":-20.8},{"x":46.0,"y":-17.7},{"x":46.5,"y":-14.3},{"x":46.6,"y":-12.3},{"x":47.4,"y":-11.0},{"x":48.0,"y":-10.0},{"x":48.5,"y":-9.8}
  ],
  "blue": [
{"x":54.3,"y":-28.7},{"x":54.8,"y":-29.6},{"x":54.7,"y":-31.6},{"x":54.6,"y":-33.8},{"x":55.1,"y":-35.5},{"x":55.5,"y":-33.2},{"x":55.9,"y":-32.4},{"x":56.5,"y":-33.5},{"x":56.1,"y":-34.3},{"x":56.2,"y":-36.6},{"x":56.7,"y":-38.2},{"x":57.2,"y":-39.6},{"x":57.5,"y":-40.7},{"x":57.1,"y":-42.7},{"x":56.7,"y":-43.8},{"x":56.5,"y":-43.2},{"x":56.6,"y":-41.6},{"x":56.0,"y":-41.6},{"x":55.5,"y":-43.8},{"x":54.7,"y":-46.0},{"x":54.5,"y":-47.7},{"x":54.7,"y":-45.5},{"x":55.1,"y":-43.2},{"x":54.5,"y":-44.3},{"x":54.1,"y":-45.5},{"x":54.5,"y":-42.1},{"x":55.2,"y":-38.8},{"x":55.6,"y":-35.5},{"x":55.5,"y":-31.0},{"x":55.7,"y":-28.8},{"x":56.4,"y":-26.3},{"x":57.2,"y":-24.6},{"x":58.1,"y":-23.2},{"x":59.0,"y":-22.2},{"x":59.8,"y":-21.7},{"x":60.8,"y":-20.5},{"x":61.7,"y":-19.3},{"x":62.3,"y":-18.8},{"x":62.8,"y":-19.6},{"x":63.6,"y":-19.1},{"x":63.6,"y":-21.0},{"x":63.3,"y":-22.7},{"x":63.4,"y":-24.3},{"x":62.9,"y":-24.3},{"x":62.5,"y":-26.0},{"x":62.3,"y":-27.1},{"x":62.2,"y":-28.8},{"x":62.7,"y":-31.0},{"x":62.8,"y":-34.3},{"x":63.6,"y":-36.0},{"x":63.9,"y":-36.8},{"x":63.7,"y":-38.8},{"x":63.3,"y":-42.1},{"x":62.9,"y":-45.5},{"x":62.5,"y":-48.8},{"x":63.3,"y":-46.6},{"x":63.8,"y":-45.5},{"x":63.9,"y":-47.7},{"x":63.2,"y":-49.9},{"x":62.7,"y":-51.6},{"x":63.3,"y":-49.9},{"x":64.1,"y":-48.8},{"x":64.6,"y":-46.6},{"x":65.1,"y":-44.3},{"x":64.6,"y":-42.7},{"x":63.8,"y":-42.1},{"x":63.7,"y":-39.9},{"x":64.1,"y":-36.6},{"x":64.6,"y":-33.2},{"x":65.1,"y":-29.9},{"x":65.3,"y":-26.0},{"x":65.1,"y":-21.6},{"x":64.8,"y":-18.8},{"x":65.2,"y":-17.7},{"x":65.5,"y":-20.5},{"x":65.6,"y":-24.3},{"x":65.8,"y":-27.7},{"x":66.6,"y":-27.7},{"x":66.3,"y":-29.9},{"x":66.5,"y":-31.6},{"x":65.6,"y":-32.1},{"x":65.1,"y":-31.0},{"x":65.3,"y":-28.8},{"x":66.1,"y":-28.8},{"x":65.8,"y":-26.0},{"x":65.3,"y":-22.1},{"x":65.3,"y":-19.3},{"x":66.3,"y":-17.1},{"x":67.3,"y":-16.0},{"x":67.9,"y":-15.2},{"x":68.6,"y":-13.8},{"x":69.4,"y":-12.6},{"x":69.9,"y":-11.6}
  ],
  "dots": [
{"x":3.3,"y":0.7},{"x":6.3,"y":2.7},{"x":13.3,"y":6.8},{"x":19.1,"y":4.7},{"x":24.6,"y":4.3},{"x":30.4,"y":0.2},{"x":33.4,"y":-1.7},{"x":33.4,"y":-7.8},{"x":29.6,"y":-12.8},{"x":33.5,"y":-13.7},{"x":32.7,"y":-20.5},{"x":39.9,"y":-10.7},{"x":48.5,"y":-9.8},{"x":51.2,"y":-14.5},{"x":50.9,"y":-24.5},{"x":54.4,"y":-28.7},{"x":56.9,"y":-21.2},{"x":59.8,"y":-21.7},{"x":62.3,"y":-27.2},{"x":69.9,"y":-11.5},{"x":66.5,"y":-44.8},{"x":68.1,"y":-43.0}
  ]
},
"vconcat": [
{
  "width": 1055, "height": 300,
  "encoding": {
    "x": {"field": "t", "type": "quantitative", "scale": {"domain": [1997, 2020], "nice": false, "zero": false},
      "axis": {"values": [1997,1998,1999,2000,2001,2002,2003,2004,2005,2006,2007,2008,2009,2010,2011,2012,2013,2014,2015,2016,2017,2018,2019,2020], "format": "d", "labelAngle": -90, "labelFlush": false, "title": null, "labelPadding": 17}}
  },
  "layer": [
    {"data": {"values": [{"t": 2007, "t2": 2009}]}, "mark": {"type": "rect", "color": "#c5d8c5"},
     "encoding": {"x2": {"field": "t2"}}},
    {"data": {"values": [{"t": 2015, "t2": 2018.15}]}, "mark": {"type": "rect", "color": "#c4c5e4"},
     "encoding": {"x2": {"field": "t2"}}},
    {"data": {"values": [{"t": 2007}, {"t": 2009}]}, "mark": {"type": "rule", "color": "#2e8b3e", "strokeDash": [5, 3], "strokeWidth": 2.5}, "encoding": {}},
    {"data": {"values": [{"t": 2015}, {"t": 2018.15}]}, "mark": {"type": "rule", "color": "#3550aa", "strokeDash": [5, 3], "strokeWidth": 2.5}, "encoding": {}},
    {"data": {"values": [{"t": 1997, "t2": 2020, "p": 0}]}, "mark": {"type": "rule", "color": "#aaaaaa", "strokeWidth": 1.5},
     "encoding": {"x2": {"field": "t2"}, "y": {"field": "p", "type": "quantitative", "scale": {"domain": [-120, 15], "nice": false, "zero": false}}}},
    {"data": {"name": "pwp"},
     "mark": {"type": "line", "strokeWidth": 7, "strokeCap": "round", "strokeJoin": "round", "clip": true,
       "stroke": {"gradient": "linear", "x1": 0, "y1": 0, "x2": 0, "y2": 1, "stops": [
         {"offset": 0, "color": "#4d8dc7"}, {"offset": 0.0268, "color": "#74acd8"}, {"offset": 0.0498, "color": "#b5d6ec"}, {"offset": 0.0651, "color": "#e4f1f6"}, {"offset": 0.0652, "color": "#fbc895"}, {"offset": 0.2184, "color": "#f7ad72"}, {"offset": 0.3716, "color": "#f4913f"}, {"offset": 0.5249, "color": "#ee7032"}, {"offset": 0.6782, "color": "#dd5434"}, {"offset": 0.8314, "color": "#b5452f"}, {"offset": 0.9847, "color": "#86382b"}, {"offset": 1, "color": "#83372a"}]}},
     "encoding": {"y": {"field": "p", "type": "quantitative", "scale": {"domain": [-120, 15], "nice": false, "zero": false},
       "axis": {"values": [15,10,0,-10,-20,-30,-40,-50,-60,-70,-80,-90,-100,-110,-120], "labelExpr": "datum.value == 15 || datum.value % 20 == 0 ? datum.label : ''", "title": "Pore Water Pressure (kPa)", "labelPadding": 15, "titlePadding": 7}}}},
    {"data": {"name": "pwp"}, "mark": {"type": "circle", "size": 0, "opacity": 1},
     "encoding": {"y": {"field": "p", "type": "quantitative", "scale": {"domain": [-120, 15], "nice": false, "zero": false}},
       "color": {"field": "p", "type": "quantitative", "scale": {"domain": [-120, -100, -80, -60, -40, -20, -0.01, 0, 2, 5, 10, 15], "range": ["#86382b", "#b5452f", "#dd5434", "#ee7032", "#f4913f", "#f7ad72", "#fbc895", "#e8f3f7", "#b5d6ec", "#74acd8", "#3c7dbf", "#1f4a9c"]},
       "legend": {"title": null, "orient": "right", "offset": 27, "gradientLength": 300, "gradientThickness": 52, "gradientStrokeColor": "#9a9a9a", "gradientStrokeWidth": 3,
         "values": [15, 0, -20, -40, -60, -80, -100, -120], "labelFontSize": 15.5, "labelColor": "#333333", "labelOffset": 8, "labelOverlap": false, "labelBaseline": "middle",
         "encode": {
           "labels": {"baseline": {"value": "middle"}},
           "gradient": {"fill": {"value": {"gradient": "linear", "x1": 0, "y1": 0, "x2": 0, "y2": 1, "stops": [
           {"offset": 0, "color": "#1f4a9c"}, {"offset": 0.037, "color": "#3c7dbf"}, {"offset": 0.0741, "color": "#74acd8"}, {"offset": 0.0963, "color": "#b5d6ec"}, {"offset": 0.1111, "color": "#e8f3f7"}, {"offset": 0.1112, "color": "#fbc895"}, {"offset": 0.2593, "color": "#f7ad72"}, {"offset": 0.4074, "color": "#f4913f"}, {"offset": 0.5556, "color": "#ee7032"}, {"offset": 0.7037, "color": "#dd5434"}, {"offset": 0.8519, "color": "#b5452f"}, {"offset": 1, "color": "#86382b"}]}}}}}}}},
    {"data": {"values": [{"t": 1997.33, "p": -108.8, "label": "Modelled Pore Pressure"}]}, "mark": {"type": "text", "align": "left", "baseline": "middle"},
     "encoding": {"text": {"field": "label"}, "y": {"field": "p", "type": "quantitative", "scale": {"domain": [-120, 15], "nice": false, "zero": false}}}},
    {"data": {"values": [{"t": 2019.63, "p": -110.3, "label": "a)"}]}, "mark": {"type": "text", "align": "right", "baseline": "middle"},
     "encoding": {"text": {"field": "label"}, "y": {"field": "p", "type": "quantitative", "scale": {"domain": [-120, 15], "nice": false, "zero": false}}}},
    {"data": {"values": [{"t": 2012.0, "p": -111.0, "label": "Prolonged Wet Period"}]}, "mark": {"type": "text", "align": "center", "baseline": "middle"},
     "encoding": {"text": {"field": "label"}, "y": {"field": "p", "type": "quantitative", "scale": {"domain": [-120, 15], "nice": false, "zero": false}}}},
    {"data": {"values": [{"t": 2009.75, "t2": 2008.3, "p": -112.8}, {"t": 2014.33, "t2": 2016.2, "p": -112.8}]}, "mark": {"type": "rule", "color": "#9a9a9a", "strokeWidth": 4},
     "encoding": {"x2": {"field": "t2"}, "y": {"field": "p", "type": "quantitative", "scale": {"domain": [-120, 15], "nice": false, "zero": false}}}},
    {"data": {"values": [{"t": 2008.12, "p": -112.8}]}, "mark": {"type": "point", "shape": "triangle-left", "filled": true, "size": 130, "color": "#9a9a9a", "opacity": 1},
     "encoding": {"y": {"field": "p", "type": "quantitative", "scale": {"domain": [-120, 15], "nice": false, "zero": false}}}},
    {"data": {"values": [{"t": 2016.36, "p": -112.8}]}, "mark": {"type": "point", "shape": "triangle-right", "filled": true, "size": 130, "color": "#9a9a9a", "opacity": 1},
     "encoding": {"y": {"field": "p", "type": "quantitative", "scale": {"domain": [-120, 15], "nice": false, "zero": false}}}}
  ]
},
{
  "width": 1055, "height": 600,
  "encoding": {
    "x": {"field": "x", "type": "quantitative", "scale": {"domain": [0, 80], "nice": false, "zero": false},
      "axis": {"values": [0,5,10,15,20,25,30,35,40,45,50,55,60,65,70,75,80], "labelExpr": "datum.value % 10 == 0 ? datum.label : ''", "labelFlush": false, "title": "Horizontal Displacement (mm)", "labelPadding": 13, "titlePadding": 4}},
    "y": {"field": "y", "type": "quantitative", "scale": {"domain": [-75, 25], "nice": false, "zero": false},
      "axis": {"values": [25,20,15,10,5,0,-5,-10,-15,-20,-25,-30,-35,-40,-45,-50,-55,-60,-65,-70,-75], "labelExpr": "datum.value % 25 == 0 ? datum.label : ''", "title": "Vertical Displacement (mm)", "labelPadding": 15, "titlePadding": 6}}
  },
  "layer": [
    {"data": {"values": [{"x": 0, "x2": 80, "y": 0}]}, "mark": {"type": "rule", "color": "#aaaaaa", "strokeWidth": 1.5},
     "encoding": {"x2": {"field": "x2"}}},
    {"data": {"name": "gray"}, "mark": {"type": "line", "strokeWidth": 2.5, "strokeJoin": "round"},
     "encoding": {"detail": {"field": "s"}, "order": {"value": null},
       "color": {"datum": "Displacement", "type": "nominal",
         "scale": {"domain": ["Displacement", "2007-2009 Wet Period", "2015-2018 Wet Period", "Indicates 1 Year Interval"], "range": ["#9a9a9a", "#2a8a45", "#3f57a8", "#e8333a"]},
         "legend": {"title": null, "orient": "bottom-left", "offset": 13, "labelFontSize": 15.5, "labelColor": "#333333", "labelLimit": 400, "symbolStrokeWidth": 3.5, "symbolOffset": -0.75, "labelOffset": 7.5, "clipHeight": 15.5, "rowPadding": 6.5, "padding": 5, "strokeColor": "#dddddd", "fillColor": "white", "cornerRadius": 4,
           "encode": {"symbols": {"update": {
             "shape": {"signal": "datum.value === 'Indicates 1 Year Interval' ? 'circle' : 'stroke'"},
             "size": {"signal": "datum.value === 'Indicates 1 Year Interval' ? 90 : 1225"},
             "stroke": {"signal": "datum.value === 'Displacement' ? '#9a9a9a' : datum.value === '2007-2009 Wet Period' ? '#2a8a45' : datum.value === '2015-2018 Wet Period' ? '#3f57a8' : 'transparent'"},
             "fill": {"signal": "datum.value === 'Indicates 1 Year Interval' ? '#e8333a' : 'transparent'"},
             "strokeWidth": {"value": 3.5}, "opacity": {"value": 1}}}}}}}},
    {"data": {"name": "green"}, "mark": {"type": "line", "strokeWidth": 3, "strokeJoin": "round"},
     "encoding": {"order": {"value": null}, "color": {"datum": "2007-2009 Wet Period", "type": "nominal"}}},
    {"data": {"name": "blue"}, "mark": {"type": "line", "strokeWidth": 3, "strokeJoin": "round"},
     "encoding": {"order": {"value": null}, "color": {"datum": "2015-2018 Wet Period", "type": "nominal"}}},
    {"data": {"name": "dots"}, "mark": {"type": "circle", "size": 85, "opacity": 1},
     "encoding": {"color": {"datum": "Indicates 1 Year Interval", "type": "nominal"}}},
    {"data": {"values": [{"x": 1.14, "y": 21.3, "label": "Surface Displacement: Mid-slope"}]}, "mark": {"type": "text", "align": "left", "baseline": "middle"},
     "encoding": {"text": {"field": "label"}}},
    {"data": {"values": [{"x": 78.7, "y": 21.3, "label": "b)"}]}, "mark": {"type": "text", "align": "right", "baseline": "middle"},
     "encoding": {"text": {"field": "label"}}},
    {"data": {"values": [{"x": 49.9, "y": 13.7, "label": "2007-2009 Wet Period"}, {"x": 60.3, "y": -6.3, "label": "2015-2018 Wet Period"}]}, "mark": {"type": "text", "align": "center", "baseline": "middle"},
     "encoding": {"text": {"field": "label"}}},
    {"data": {"values": [{"x": 49.3, "y": 10.3, "x2": 44.6, "y2": -5.5}, {"x": 61.56, "y": -9.33, "x2": 63.5, "y2": -15.5}]}, "mark": {"type": "rule", "color": "#9a9a9a", "strokeWidth": 4},
     "encoding": {"x2": {"field": "x2"}, "y2": {"field": "y2"}}},
    {"data": {"values": [{"x": 44.4, "y": -6.33}]}, "mark": {"type": "point", "shape": "triangle-up", "angle": 212.5, "filled": true, "size": 150, "color": "#9a9a9a", "opacity": 1}},
    {"data": {"values": [{"x": 63.65, "y": -16.2}]}, "mark": {"type": "point", "shape": "triangle-up", "angle": 146, "filled": true, "size": 150, "color": "#9a9a9a", "opacity": 1}}
  ]
}
]
}
